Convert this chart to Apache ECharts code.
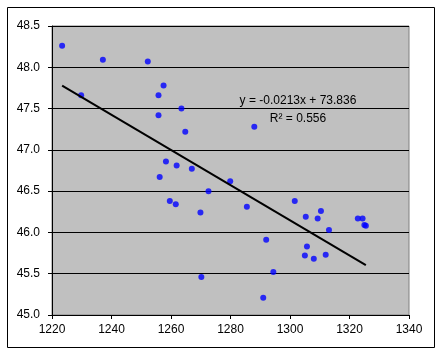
<!DOCTYPE html>
<html>
<head>
<meta charset="utf-8">
<script src="https://cdn.jsdelivr.net/npm/echarts@6/dist/echarts.min.js"></script>
<style>
  html, body { margin: 0; padding: 0; background: #fff; }
  #chart { width: 441px; height: 351px; }
</style>
</head>
<body>
<div id="chart"></div>
<script>
// observed points
const xValues = [1223.4, 1237.1, 1252.2, 1229.8, 1257.5, 1255.8, 1263.5, 1255.8, 1264.8, 1258.3,
  1261.9, 1267.0, 1256.2, 1272.6, 1259.6, 1261.6, 1269.9, 1270.2, 1279.9, 1285.5,
  1301.6, 1305.3, 1310.4, 1309.3, 1313.1, 1322.8, 1324.4, 1325.0, 1325.5, 1292.0,
  1305.7, 1305.0, 1308.0, 1312.0, 1294.4, 1291.0, 1288.0]
const yValues = [48.26, 48.09, 48.07, 47.66, 47.78, 47.66, 47.50, 47.42, 47.22, 46.86,
  46.81, 46.77, 46.67, 46.50, 46.38, 46.34, 46.24, 45.46, 46.62, 46.31,
  46.38, 46.19, 46.26, 46.17, 46.03, 46.17, 46.17, 46.09, 46.08, 45.91,
  45.83, 45.72, 45.68, 45.73, 45.52, 45.21, 47.28]

// linear trend shown on the chart
const slope = -0.0213
const intercept = 73.836
const rSquared = 0.556

const xTicks = [1220, 1340, 20]   // min, max, step
const yTicks = [45.0, 48.5, 0.5]

const points = xValues.map((x, i) => [x, yValues[i]])
const xMin = Math.min(...xValues)
const xMax = Math.max(...xValues)
const trend = [[xMin, slope * xMin + intercept], [xMax, slope * xMax + intercept]]

const font = 'Arial, "Liberation Sans", sans-serif'

const chart = echarts.init(document.getElementById('chart'))
chart.setOption({
  animation: false,
  grid: {
    left: 52, right: 32, top: 26, bottom: 36,
    show: true,
    backgroundColor: '#c0c0c0',
    borderColor: '#808080',
    borderWidth: 1
  },
  xAxis: {
    type: 'value',
    min: xTicks[0], max: xTicks[1], interval: xTicks[2],
    axisLine: { onZero: false, lineStyle: { color: '#000' } },
    axisTick: { show: true, length: 4, lineStyle: { color: '#000' } },
    axisLabel: {
      color: '#000', fontFamily: font, fontSize: 12, margin: 9,
      formatter: v => String(v)
    },
    splitLine: { show: false }
  },
  yAxis: {
    type: 'value',
    min: yTicks[0], max: yTicks[1], interval: yTicks[2],
    axisLine: { show: true, onZero: false, lineStyle: { color: '#000' } },
    axisTick: { show: true, length: 4, lineStyle: { color: '#000' } },
    axisLabel: {
      color: '#000', fontFamily: font, fontSize: 12, margin: 12,
      formatter: v => v.toFixed(1)
    },
    splitLine: { show: true, lineStyle: { color: '#000', width: 1 } }
  },
  series: [
    {
      type: 'scatter',
      data: points,
      symbol: 'circle',
      symbolSize: 6,
      itemStyle: { color: '#0000ff' },
      z: 3
    },
    {
      type: 'line',
      data: trend,
      symbol: 'none',
      lineStyle: { color: '#000', width: 2 },
      z: 4
    }
  ],
  graphic: [
    {
      type: 'rect',
      left: 5, top: 5,
      shape: { width: 427, height: 340 },
      style: { fill: 'none', stroke: '#000', lineWidth: 1 },
      silent: true
    },
    {
      type: 'text',
      x: 298, y: 101,
      style: {
        text: 'y = -0.0213x + 73.836',
        font: '12px ' + font, fill: '#000',
        align: 'center', verticalAlign: 'middle'
      }
    },
    {
      type: 'text',
      x: 298, y: 119,
      style: {
        text: 'R² = ' + rSquared.toFixed(3),
        font: '12px ' + font, fill: '#000',
        align: 'center', verticalAlign: 'middle'
      }
    }
  ]
})
</script>
</body>
</html>
